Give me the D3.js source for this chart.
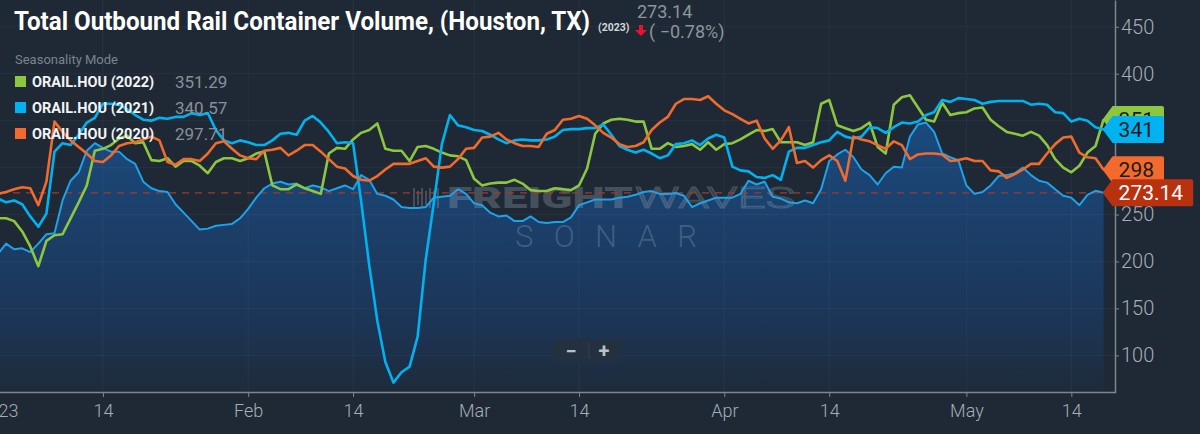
<!DOCTYPE html>
<html>
<head>
<meta charset="utf-8">
<script src="https://cdn.jsdelivr.net/npm/d3@7"></script>
<style>
  html, body { margin: 0; padding: 0; background: #1e2935; overflow: hidden; }
  svg { display: block; }
  text { font-family: Roboto, "Noto Sans", sans-serif; }
</style>
</head>
<body>
<div class="chart"></div>
<script>
// daily values, day 0 = Jan 1
const startDate = new Date(2023, 0, 1);

const vol2023 = [208, 219, 213, 214, 210, 219, 229, 230, 265, 286,
  295, 318, 326, 321, 317, 317, 309, 304, 285, 278,
  275, 274, 261, 252, 243, 234, 235, 238, 239, 240,
  246, 256, 268, 278, 283, 285, 282, 283, 278, 281,
  279, 275, 278, 281, 277, 292, 287, 272, 270, 266,
  258, 257, 257, 258, 268, 269, 270, 277, 272, 262,
  260, 252, 248, 249, 243, 243, 248, 242, 241, 242,
  242, 247, 260, 263, 266, 266, 266, 268, 269, 271,
  274, 275, 272, 272, 273, 270, 258, 262, 265, 268,
  268, 268, 272, 286, 282, 285, 269, 267, 263, 262,
  265, 262, 277, 307, 314, 319, 311, 298, 292, 282,
  294, 301, 300, 333, 346, 348, 338, 315, 311, 308,
  281, 272, 274, 281, 291, 292, 294, 300, 292, 286,
  284, 277, 270, 268, 260, 271, 275.28, 273.14];

const vol2022 = [246, 246, 243, 232, 216, 195, 222, 228, 229, 246,
  263, 281, 318, 320, 324, 331, 334, 326, 327, 308,
  307, 310, 301, 307, 307, 302, 294, 306, 310, 310,
  307, 310, 315, 317, 281, 277, 277, 282, 278, 275,
  272, 315, 321, 320, 330, 337, 340, 347, 320, 318,
  318, 307, 322, 323, 320, 316, 313, 312, 308, 288,
  281, 283, 284, 284, 287, 283, 276, 275, 275, 278,
  277, 276, 281, 299, 336, 347, 351, 352, 351, 349,
  349, 320, 320, 326, 322, 323, 325, 319, 327, 319,
  325, 326, 330, 335, 340, 339, 341, 327, 327, 327,
  324, 327, 368, 372, 345, 342, 339, 342, 348, 322,
  315, 367, 375, 377, 364, 351, 349, 369, 356, 358,
  359, 363, 364, 351, 344, 338, 336, 334, 338, 334,
  324, 309, 300, 295, 302, 316, 323, 351.29];

const vol2021 = [267, 263, 265, 261, 248, 237, 251, 317, 326, 324,
  335, 348, 353, 368, 368, 367, 362, 356, 351, 350,
  353, 352, 354, 354, 358, 356, 358, 340, 329, 326,
  329, 327, 324, 324, 329, 336, 337, 335, 350, 355,
  348, 338, 326, 327, 326, 264, 196, 137, 93, 71,
  82, 88, 120, 202, 262, 325, 356, 345, 343, 340,
  339, 335, 330, 326, 329, 330, 329, 329, 330, 333,
  340, 341, 341, 342, 342, 346, 335, 323, 319, 316,
  319, 315, 310, 313, 325, 326, 329, 324, 331, 335,
  332, 301, 297, 296, 290, 289, 292, 287, 317, 321,
  321, 324, 327, 329, 338, 333, 331, 333, 343, 342,
  337, 343, 348, 347, 349, 356, 359, 372, 370, 374,
  373, 372, 368, 370, 371, 371, 371, 371, 367, 368,
  367, 359, 358, 349, 352, 350, 343, 340.57];

const vol2020 = [272, 274, 277, 279, 278, 260, 285, 349, 338, 329,
  322, 315, 307, 306, 313, 323, 326, 327, 330, 333,
  329, 306, 303, 309, 309, 307, 315, 326, 328, 320,
  313, 310, 309, 318, 319, 321, 313, 318, 324, 324,
  317, 309, 301, 299, 291, 287, 286, 291, 298, 304,
  304, 304, 307, 310, 301, 300, 301, 309, 320, 321,
  332, 333, 337, 330, 326, 323, 323, 322, 336, 340,
  351, 352, 355, 352, 345, 337, 332, 325, 322, 323,
  327, 340, 348, 354, 368, 373, 373, 372, 376, 368,
  361, 357, 352, 347, 350, 331, 320, 329, 343, 305,
  307, 300, 308, 313, 307, 286, 333, 330, 328, 324,
  320, 328, 324, 309, 314, 315, 315, 314, 307, 308,
  310, 307, 307, 297, 296, 289, 293, 298, 304, 304,
  315, 325, 332, 333, 316, 311, 310, 297.71];

const seriesNames = ["ORAIL.HOU (2022)", "ORAIL.HOU (2021)", "ORAIL.HOU (2020)"];
const tickDates = [new Date(2023, 0, 1), new Date(2023, 0, 14), new Date(2023, 1, 1), new Date(2023, 1, 14),
  new Date(2023, 2, 1), new Date(2023, 2, 14), new Date(2023, 3, 1), new Date(2023, 3, 14),
  new Date(2023, 4, 1), new Date(2023, 4, 14)];
const tickLabels = ["2023", "14", "Feb", "14", "Mar", "14", "Apr", "14", "May", "14"];
const yTicks = [100, 150, 200, 250, 300, 350, 400, 450];

const colors = {g2022: "#8dc63f", b2021: "#00b2ef", o2020: "#f26a2c", b2023: "#1ea2ea", cur: "#b9320f"};

const series = [
  {name: seriesNames[0], values: vol2022, color: colors.g2022},
  {name: seriesNames[1], values: vol2021, color: colors.b2021},
  {name: seriesNames[2], values: vol2020, color: colors.o2020}
];

/************* layout ***********/
let width = 1200, height = 434,
    plotRight = 1115, plotBottom = 392;

let svg = d3.select(".chart").append("svg")
    .attr("width", width)
    .attr("height", height);

let x = d3.scaleTime()
    .domain([new Date(2023, 0, 1), new Date(2023, 4, 19, 12)])
    .range([-2, 1115.7]);

let y = d3.scaleLinear()
    .domain([61, 478.5])
    .range([plotBottom, 0]);

const dateOf = i => d3.timeDay.offset(startDate, i);

// gradient for the 2023 area
let defs = svg.append("defs");
let grad = defs.append("linearGradient")
    .attr("id", "areaGrad")
    .attr("gradientUnits", "userSpaceOnUse")
    .attr("x1", 0).attr("x2", 0).attr("y1", 110).attr("y2", plotBottom);
grad.append("stop").attr("offset", 0).attr("stop-color", "#1b4b80");
grad.append("stop").attr("offset", 0.75).attr("stop-color", "#1c3556");
grad.append("stop").attr("offset", 1).attr("stop-color", "#1e2b3b");

// area 2023
let area = d3.area()
    .x((d, i) => x(dateOf(i)))
    .y0(plotBottom)
    .y1(d => y(d));

svg.append("path")
    .datum(vol2023)
    .attr("d", area)
    .attr("fill", "url(#areaGrad)");

// grid
svg.append("g").selectAll("line")
    .data(tickDates)
    .enter().append("line")
    .attr("x1", d => x(d)).attr("x2", d => x(d))
    .attr("y1", 0).attr("y2", plotBottom)
    .attr("stroke", "rgba(255,255,255,0.045)");

svg.append("g").selectAll("line")
    .data(yTicks)
    .enter().append("line")
    .attr("x1", 0).attr("x2", plotRight)
    .attr("y1", d => y(d)).attr("y2", d => y(d))
    .attr("stroke", "rgba(255,255,255,0.045)");

// watermark
let wm = svg.append("g");
for (let k = 0; k < 7; k++) {
    wm.append("rect")
        .attr("x", 413 + k * 4).attr("y", 188 + (k % 2) * 3)
        .attr("width", 2).attr("height", 20 - (k % 2) * 6)
        .attr("fill", "rgba(170,180,190,0.28)");
}
wm.append("text")
    .attr("x", 447).attr("y", 208)
    .attr("font-size", 29).attr("font-weight", 900)
    .attr("textLength", 186).attr("lengthAdjust", "spacingAndGlyphs")
    .attr("fill", "rgba(170,180,190,0.30)")
    .text("FREIGHT");
wm.append("text")
    .attr("x", 635).attr("y", 208)
    .attr("font-size", 29).attr("font-weight", 300)
    .attr("textLength", 160).attr("lengthAdjust", "spacingAndGlyphs")
    .attr("fill", "none").attr("stroke", "rgba(170,180,190,0.30)").attr("stroke-width", 1.2)
    .text("WAVES");
wm.append("text")
    .attr("x", 515).attr("y", 247)
    .attr("font-size", 31).attr("font-weight", 300)
    .attr("textLength", 182).attr("lengthAdjust", "spacing")
    .attr("fill", "rgba(150,175,205,0.30)")
    .text("SONAR");

// zoom buttons
let zb = svg.append("g");
zb.append("rect").attr("x", 553).attr("y", 339).attr("width", 69).attr("height", 24)
    .attr("rx", 4).attr("fill", "#233040");
zb.append("line").attr("x1", 589).attr("x2", 589).attr("y1", 343).attr("y2", 359)
    .attr("stroke", "#34424f");
zb.append("text").attr("x", 571).attr("y", 358).attr("text-anchor", "middle")
    .attr("font-size", 20).attr("font-weight", 700).attr("fill", "#b9c0c6").text("\u2212");
zb.append("text").attr("x", 604).attr("y", 358).attr("text-anchor", "middle")
    .attr("font-size", 20).attr("font-weight", 700).attr("fill", "#b9c0c6").text("+");

// current value dashed line
let last = vol2023.length - 1;
svg.append("line")
    .attr("x1", 0).attr("x2", x(dateOf(last)))
    .attr("y1", y(vol2023[last])).attr("y2", y(vol2023[last]))
    .attr("stroke", "#a13a2c").attr("stroke-width", 1.2)
    .attr("stroke-dasharray", "7,6");

// lines
let line = d3.line()
    .x((d, i) => x(dateOf(i)))
    .y(d => y(d));

svg.append("path")
    .datum(vol2023)
    .attr("d", line)
    .attr("fill", "none")
    .attr("stroke", colors.b2023)
    .attr("stroke-width", 2)
    .attr("stroke-linejoin", "round");

svg.selectAll(".series")
    .data(series)
    .enter().append("path")
    .attr("class", "series")
    .attr("d", d => line(d.values))
    .attr("fill", "none")
    .attr("stroke", d => d.color)
    .attr("stroke-width", 2.6)
    .attr("stroke-linejoin", "round");

// axes
let xAxis = d3.axisBottom(x)
    .tickValues(tickDates)
    .tickFormat((d, i) => tickLabels[i])
    .tickSize(5)
    .tickSizeOuter(0);

let gx = svg.append("g")
    .attr("transform", "translate(0," + plotBottom + ")")
    .call(xAxis);
gx.select(".domain").attr("stroke", "#7d8791").attr("stroke-width", 1.5);
gx.selectAll(".tick line").attr("stroke", "#7d8791");
gx.selectAll(".tick text")
    .attr("y", 12)
    .attr("fill", "#a6adb4")
    .attr("font-size", 18)
    .attr("font-weight", 300)
    .attr("font-family", "Roboto, sans-serif");

let yAxis = d3.axisRight(y)
    .tickValues(yTicks)
    .tickSize(4)
    .tickSizeOuter(0);

let gy = svg.append("g")
    .attr("transform", "translate(" + plotRight + ",0)")
    .call(yAxis);
gy.select(".domain").attr("stroke", "#7d8791").attr("stroke-width", 1.5);
gy.selectAll(".tick line").attr("stroke", "#7d8791");
gy.selectAll(".tick text")
    .attr("x", 6)
    .attr("fill", "#a6adb4")
    .attr("font-size", 20)
    .attr("font-weight", 300)
    .attr("font-family", "Roboto, sans-serif");

// value flags on the right
let flags = [
    {v: vol2022[last], label: d3.format(".0f")(vol2022[last]), fill: colors.g2022, text: "#1b1b1b"},
    {v: vol2021[last], label: d3.format(".0f")(vol2021[last]), fill: colors.b2021, text: "#1b1b1b"},
    {v: vol2020[last], label: d3.format(".0f")(vol2020[last]), fill: colors.o2020, text: "#1b1b1b"},
    {v: vol2023[last], label: d3.format(".2f")(vol2023[last]), fill: colors.cur, text: "#ffffff"}
];

// axis labels sitting under a flag are hidden, as in the original
gy.selectAll(".tick text")
    .style("display", d => flags.some(f => Math.abs(y(f.v) - y(d)) < 13.5) ? "none" : null);

let tipX = x(dateOf(last)) - 1;
flags.forEach(f => {
    let cy = y(f.v);
    let g = svg.append("g");
    let path = g.append("path").attr("fill", f.fill);
    let t = g.append("text")
        .attr("x", tipX + 16)
        .attr("y", cy)
        .attr("dy", "0.36em")
        .attr("font-size", 21)
        .attr("fill", f.text)
        .text(f.label);
    let w = t.node().getComputedTextLength() + 16;
    let h = 13.5, b = tipX + 10;
    path.attr("d", "M" + tipX + "," + cy + "L" + b + "," + (cy - h) +
        "H" + (b + w - 2) + "q2,0 2,2V" + (cy + h - 2) + "q0,2 -2,2H" + b + "Z");
});

// title and header
svg.append("text")
    .attr("x", 14).attr("y", 30)
    .attr("font-size", 25).attr("font-weight", 700)
    .attr("fill", "#ffffff")
    .attr("textLength", 576).attr("lengthAdjust", "spacingAndGlyphs")
    .text("Total Outbound Rail Container Volume, (Houston, TX)");

svg.append("text")
    .attr("x", 598).attr("y", 31)
    .attr("font-size", 10.5).attr("font-weight", 700)
    .attr("fill", "#d3d7db")
    .text("(2023)");

let cur = vol2023[last], prev = vol2023[last - 1];
svg.append("text")
    .attr("x", 637).attr("y", 18)
    .attr("font-size", 18)
    .attr("fill", "#8d949b")
    .text(d3.format(".2f")(cur));

svg.append("path")
    .attr("d", "M639,25h4v5h4l-6,6l-6,-6h4z")
    .attr("fill", "#e8132c");

svg.append("text")
    .attr("x", 649).attr("y", 38)
    .attr("font-size", 18)
    .attr("fill", "#8d949b")
    .text("( " + d3.format(".2f")((cur / prev - 1) * 100) + "%)");

// legend
svg.append("text")
    .attr("x", 15).attr("y", 64)
    .attr("font-size", 13)
    .attr("fill", "#7b838b")
    .text("Seasonality Mode");

let leg = svg.selectAll(".legend")
    .data(series)
    .enter().append("g")
    .attr("class", "legend")
    .attr("transform", (d, i) => "translate(15," + (76 + i * 26) + ")");

leg.append("rect")
    .attr("width", 11).attr("height", 11)
    .attr("fill", d => d.color);

leg.append("text")
    .attr("x", 17).attr("y", 11)
    .attr("font-size", 14.5).attr("font-weight", 700)
    .attr("fill", "#f2f4f5")
    .text(d => d.name);

leg.append("text")
    .attr("x", 160).attr("y", 12)
    .attr("font-size", 17)
    .attr("fill", "#8a9097")
    .text(d => d3.format(".2f")(d.values[d.values.length - 1]));
</script>
</body>
</html>
